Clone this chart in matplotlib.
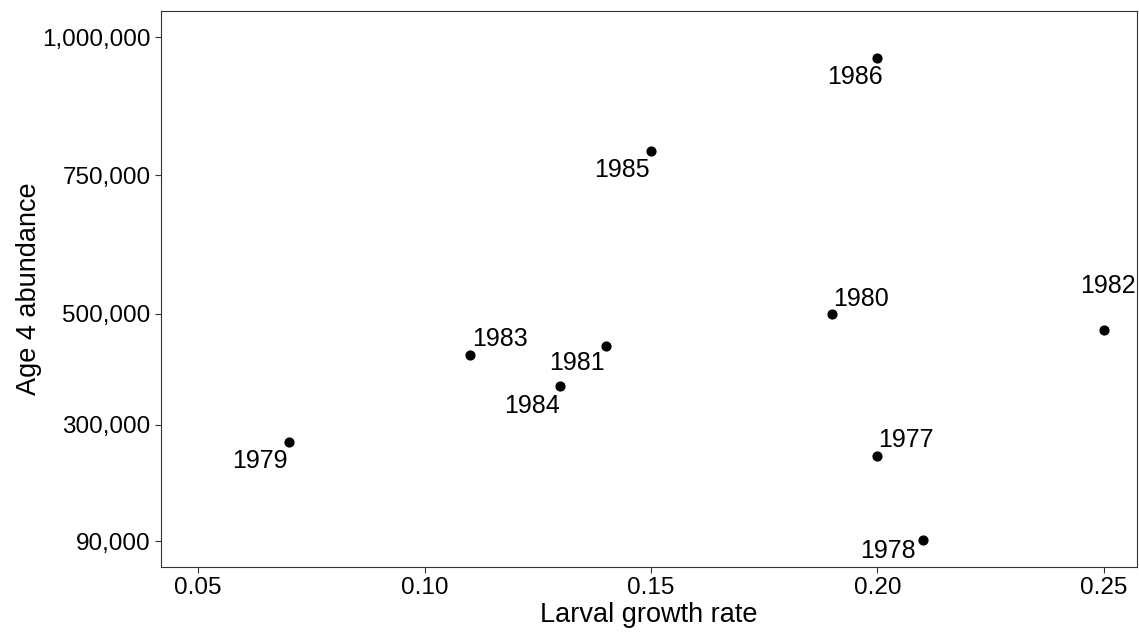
import matplotlib.pyplot as plt
from matplotlib.ticker import FuncFormatter

plt.rcParams['font.family'] = ['Liberation Sans', 'DejaVu Sans']

# data
years = ['1977', '1978', '1979', '1980', '1981', '1982', '1983', '1984', '1985', '1986']
growth = [0.20, 0.21, 0.07, 0.19, 0.14, 0.25, 0.11, 0.13, 0.15, 0.20]
abundance = [244000, 92000, 268000, 500000, 442000, 471000, 426000, 369000, 795000, 962000]

# label offsets in pixels (text centre relative to point)
label_dx = [29, -35, -29, 29, -29, 4, 30, -28, -29, -22]
label_dy = [16, -11, -19, 15, -17, 44, 16, -20, -19, -19]

fig = plt.figure(figsize=(11.39, 6.32), dpi=100)
ax = fig.add_axes([0.1414, 0.1028, 0.8566, 0.8798])

ax.scatter(growth, abundance, s=40, color='black', zorder=3)
for yr, x, y, dx, dy in zip(years, growth, abundance, label_dx, label_dy):
    ax.annotate(yr, (x, y), xytext=(dx, dy), textcoords='offset pixels',
                ha='center', va='center', fontsize=18)

ax.set_xlim(0.0418, 0.2573)
ax.set_ylim(43000, 1047000)
ax.set_xticks([0.05, 0.10, 0.15, 0.20, 0.25])
ax.set_yticks([90000, 300000, 500000, 750000, 1000000])
ax.xaxis.set_major_formatter(FuncFormatter(lambda v, p: f'{v:.2f}'))
ax.yaxis.set_major_formatter(FuncFormatter(lambda v, p: f'{int(v):,}'))
ax.tick_params(labelsize=17.5, length=4, color='#333333', labelcolor='black', width=0.8)

for s in ax.spines.values():
    s.set_color('#333333')
    s.set_linewidth(0.8)

ax.set_xlabel('Larval growth rate', fontsize=19.5, labelpad=2)
ax.set_ylabel('Age 4 abundance', fontsize=19.5, labelpad=0)

fig.savefig('out.png', dpi=100)
